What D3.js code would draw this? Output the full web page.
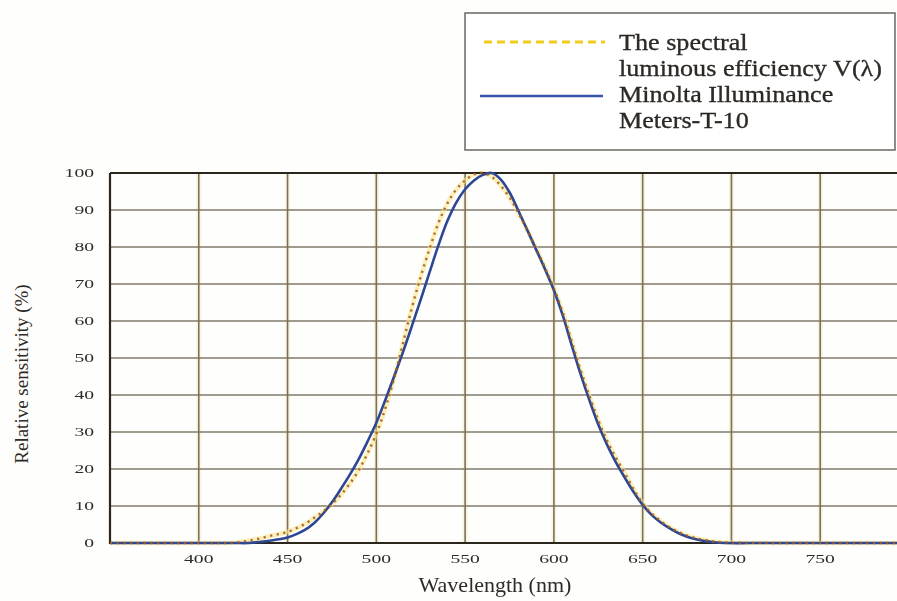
<!DOCTYPE html>
<html>
<head>
<meta charset="utf-8">
<script src="https://cdn.jsdelivr.net/npm/d3@7"></script>
<style>
  html, body { margin: 0; padding: 0; background: #fefefc; }
  svg { display: block; }
  text { font-family: "Liberation Serif", "Times New Roman", serif; fill: #2e2a26; }
</style>
</head>
<body>
<script>
// Wavelength samples (nm) and relative sensitivity (%) for each curve
const wavelengthsT10 = [350, 380, 400, 420, 428, 435, 440, 445, 450, 455, 460, 465, 470, 475, 480, 485, 490, 495, 500, 505, 510, 515, 520, 525, 530, 535, 540, 545, 550, 555, 560, 565, 570, 575, 580, 585, 590, 595, 600, 605, 610, 615, 620, 625, 630, 635, 640, 645, 650, 655, 660, 665, 670, 675, 680, 685, 690, 697, 720, 760, 800];
const sensitivityT10 = [0, 0, 0, 0, 0, 0.3, 0.6, 1.0, 1.5, 2.4, 3.6, 5.4, 7.9, 11.0, 14.6, 18.4, 22.6, 27.4, 32.5, 38.6, 45.0, 51.6, 58.6, 65.8, 73.2, 80.5, 87.0, 92.0, 95.6, 98.0, 99.5, 100, 98.3, 94.8, 89.8, 84.6, 79.3, 74.0, 68.3, 61.5, 53.5, 45.7, 38.6, 32.0, 26.5, 21.7, 17.6, 13.7, 10.3, 7.6, 5.6, 4.0, 2.7, 1.7, 1.0, 0.5, 0.2, 0, 0, 0, 0];

const wavelengthsV = [350, 380, 400, 415, 420, 425, 430, 435, 440, 445, 450, 455, 460, 465, 470, 475, 480, 485, 490, 495, 500, 505, 510, 515, 520, 525, 530, 535, 540, 545, 550, 555, 560, 565, 570, 575, 580, 585, 590, 595, 600, 605, 610, 615, 620, 625, 630, 635, 640, 645, 650, 655, 660, 665, 670, 675, 680, 685, 690, 695, 700, 740, 800];
const sensitivityV = [0, 0, 0, 0, 0.1, 0.4, 0.8, 1.3, 1.9, 2.4, 3.0, 4.0, 5.2, 6.8, 8.5, 10.5, 13.0, 16.0, 19.6, 24.2, 29.5, 36.3, 44.5, 54.0, 63.5, 72.0, 79.5, 86.5, 91.8, 95.5, 98.0, 99.6, 100, 99.0, 96.6, 93.4, 89.2, 84.6, 79.6, 74.4, 68.8, 62.3, 54.5, 46.8, 39.8, 33.2, 27.6, 23.0, 18.8, 14.5, 10.7, 8.0, 6.0, 4.3, 3.0, 2.0, 1.3, 0.8, 0.4, 0.2, 0.1, 0, 0];

// Axis ticks
const xTicks = [400, 450, 500, 550, 600, 650, 700, 750];
const yTicks = [0, 10, 20, 30, 40, 50, 60, 70, 80, 90, 100];

// Legend entries
const legendV = ["The spectral", "luminous efficiency V(\u03bb)"];
const legendT10 = ["Minolta Illuminance", "Meters-T-10"];

const W = 897, H = 601;
const svg = d3.select("body").append("svg").attr("width", W).attr("height", H);

const x = d3.scaleLinear().domain([350, 800]).range([110, 909]);
const y = d3.scaleLinear().domain([0, 100]).range([543, 173]);

const defs = svg.append("defs");
defs.append("clipPath").attr("id", "plot-clip")
  .append("rect").attr("x", 108).attr("y", 160).attr("width", 820).attr("height", 390);

const softBlur = defs.append("filter").attr("id", "soft")
  .attr("x", "-5%").attr("y", "-5%").attr("width", "110%").attr("height", "110%");
softBlur.append("feGaussianBlur").attr("stdDeviation", 0.6);

const plot = svg.append("g").attr("clip-path", "url(#plot-clip)").attr("filter", "url(#soft)");

// faint yellowish haze around the vertical grid lines
plot.append("g").selectAll("line").data(xTicks).join("line")
  .attr("x1", d => x(d)).attr("x2", d => x(d)).attr("y1", y(100)).attr("y2", y(0))
  .attr("stroke", "#f5eec8").attr("stroke-width", 5).attr("opacity", 0.6);

// grid
plot.append("g").selectAll("line").data(yTicks.slice(1, -1)).join("line")
  .attr("x1", x(350)).attr("x2", x(800)).attr("y1", d => y(d)).attr("y2", d => y(d))
  .attr("stroke", "#82796a").attr("stroke-width", 1.4);
plot.append("g").selectAll("line").data(xTicks).join("line")
  .attr("x1", d => x(d)).attr("x2", d => x(d)).attr("y1", y(100)).attr("y2", y(0))
  .attr("stroke", "#7a705c").attr("stroke-width", 1.6);

const lineV = d3.line().x((d, i) => x(wavelengthsV[i])).y(d => y(d)).curve(d3.curveCatmullRom.alpha(0.5));
const lineT = d3.line().x((d, i) => x(wavelengthsT10[i])).y(d => y(d)).curve(d3.curveCatmullRom.alpha(0.5));

// V(lambda) yellow halo
plot.append("path").datum(sensitivityV).attr("d", lineV)
  .attr("fill", "none").attr("stroke", "#f8e68c").attr("stroke-width", 4.5).attr("opacity", 0.6);

// frame
plot.append("path")
  .attr("d", `M${x(350)},${y(100)}V${y(0)}H${x(800)}M${x(350)},${y(100)}H${x(800)}`)
  .attr("fill", "none").attr("stroke", "#2b251c").attr("stroke-width", 2.2);

// Minolta T-10 response
plot.append("path").datum(sensitivityT10).attr("d", lineT)
  .attr("fill", "none").attr("stroke", "#2d4795").attr("stroke-width", 2.6);

// V(lambda) brown dots
plot.append("path").datum(sensitivityV).attr("d", lineV)
  .attr("fill", "none").attr("stroke", "#a65d26").attr("stroke-width", 2.4)
  .attr("stroke-dasharray", "2.2,4.5").attr("opacity", 0.9);

// tick labels (wide, blurred serif digits)
const tickText = (sel) => sel
  .attr("font-size", 11.5)
  .attr("textLength", d => String(d).length * 9.8)
  .attr("lengthAdjust", "spacingAndGlyphs")
  .attr("fill", "#4a4540");

svg.append("g").selectAll("text").data(xTicks).join("text")
  .attr("x", d => x(d) - String(d).length * 4.9).attr("y", 563)
  .text(d => d).call(tickText);

svg.append("g").selectAll("text").data(yTicks).join("text")
  .attr("x", d => 94 - String(d).length * 9.8).attr("y", d => y(d) + 4)
  .text(d => d).call(tickText);

// axis titles
svg.append("text").attr("x", 495).attr("y", 592).attr("text-anchor", "middle")
  .attr("font-size", 22).text("Wavelength (nm)");
svg.append("text").attr("transform", "translate(28,374) rotate(-90)")
  .attr("text-anchor", "middle").attr("font-size", 19).text("Relative sensitivity (%)");

// legend
const legend = svg.append("g").attr("filter", "url(#soft)");
legend.append("rect").attr("x", 465).attr("y", 13).attr("width", 430).attr("height", 137)
  .attr("fill", "#ffffff").attr("stroke", "#6b6560").attr("stroke-width", 1.5);
legend.append("line").attr("x1", 484).attr("x2", 605).attr("y1", 42).attr("y2", 42)
  .attr("stroke", "#f2cc1e").attr("stroke-width", 3).attr("stroke-dasharray", "8,5");
legend.append("line").attr("x1", 480).attr("x2", 603).attr("y1", 96).attr("y2", 96)
  .attr("stroke", "#3852a8").attr("stroke-width", 2.6);
legend.append("g").selectAll("text").data(legendV.concat(legendT10)).join("text")
  .attr("transform", (d, i) => `translate(619,${50 + i * 26}) scale(1.09,1)`)
  .attr("font-size", 24).attr("fill", "#1f1b18")
  .attr("stroke", "#1f1b18").attr("stroke-width", 0.3).text(d => d);
</script>
</body>
</html>
